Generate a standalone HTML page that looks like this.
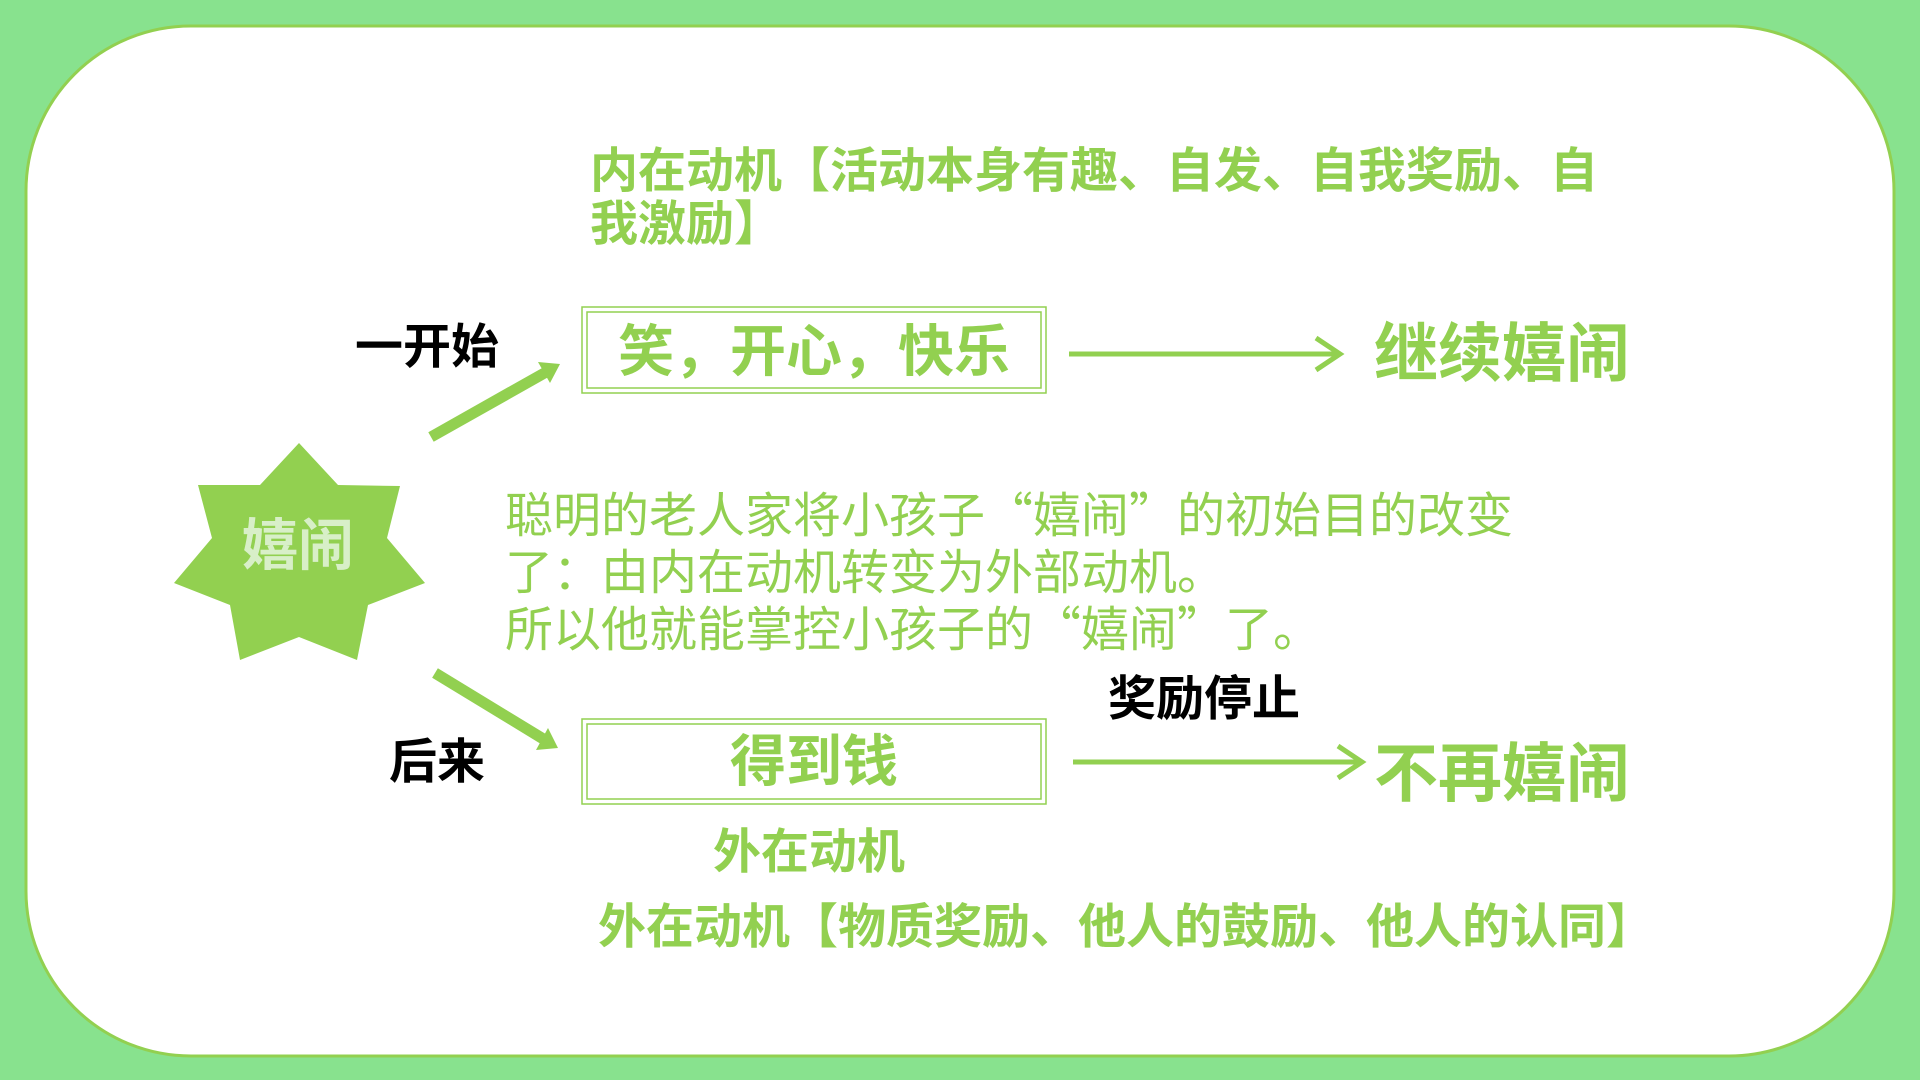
<!DOCTYPE html>
<html><head><meta charset="utf-8"><style>
body{margin:0;width:1920px;height:1080px;background:#88e28e;position:relative;overflow:hidden;font-family:"Liberation Sans","Noto Sans CJK SC",sans-serif}
.t{position:absolute;white-space:nowrap;line-height:1}
.g{color:#92d050;font-weight:bold}
.k{color:#000;font-weight:bold}
</style></head><body>
<svg width="1920" height="1080" style="position:absolute;left:0;top:0">
<rect x="26" y="26" width="1868" height="1030" rx="165" ry="165" fill="#fff" stroke="#92d050" stroke-width="3"/>
<rect x="582" y="307" width="464" height="86" fill="none" stroke="#92d050" stroke-width="1.5"/>
<rect x="587" y="312" width="454" height="76" fill="none" stroke="#92d050" stroke-width="1.5"/>
<rect x="582" y="719" width="464" height="85" fill="none" stroke="#92d050" stroke-width="1.5"/>
<rect x="587" y="724" width="454" height="75" fill="none" stroke="#92d050" stroke-width="1.5"/>
<g stroke="#92d050" fill="none" stroke-linecap="butt">
<line x1="1069" y1="354" x2="1336" y2="354" stroke-width="5"/>
<polyline points="1316,338 1340,354 1316,370" stroke-width="5"/>
<line x1="1073" y1="762" x2="1358" y2="762" stroke-width="5"/>
<polyline points="1338,746 1362,762 1338,778" stroke-width="5"/>
<line x1="431" y1="437" x2="548" y2="371" stroke-width="11"/>
<line x1="435" y1="673" x2="545" y2="740" stroke-width="11"/>
</g>
<polygon points="560,364 538,362 550,383" fill="#92d050"/>
<polygon points="558,748 536,750 548,728" fill="#92d050"/>
<polygon fill="#92d050" points="299,443 338,485 400,486 387,538 425,583 368,605 357,660 299,637 240,660 230,605 174,583 212,538 198,485 260,485"/>
</svg>
<div class="t g" style="left:590px;top:145px;font-size:48px;line-height:53px">内在动机【活动本身有趣、自发、自我奖励、自<br>我激励】</div>
<div class="t k" style="left:355px;top:324px;font-size:48px">一开始</div>
<div class="t g" style="left:582px;top:324px;width:464px;text-align:center;font-size:56px">笑，开心，快乐</div>
<div class="t g" style="left:1374px;top:322px;font-size:64px">继续嬉闹</div>
<div class="t" style="left:242px;top:518px;width:112px;text-align:center;font-size:56px;font-weight:bold;color:#d8efc8">嬉闹</div>
<div class="t" style="left:505px;top:483px;font-size:48px;line-height:57px;color:#92d050;font-family:'Noto Sans CJK SC',sans-serif">聪明的老人家将小孩子“嬉闹”的初始目的改变<br>了：由内在动机转变为外部动机。<br>所以他就能掌控小孩子的“嬉闹”了。</div>
<div class="t k" style="left:1108px;top:676px;font-size:48px">奖励停止</div>
<div class="t k" style="left:389px;top:739px;font-size:48px">后来</div>
<div class="t g" style="left:582px;top:734px;width:464px;text-align:center;font-size:56px">得到钱</div>
<div class="t g" style="left:1374px;top:742px;font-size:64px">不再嬉闹</div>
<div class="t g" style="left:713px;top:829px;font-size:48px">外在动机</div>
<div class="t g" style="left:598px;top:904px;font-size:48px">外在动机【物质奖励、他人的鼓励、他人的认同】</div>
</body></html>
